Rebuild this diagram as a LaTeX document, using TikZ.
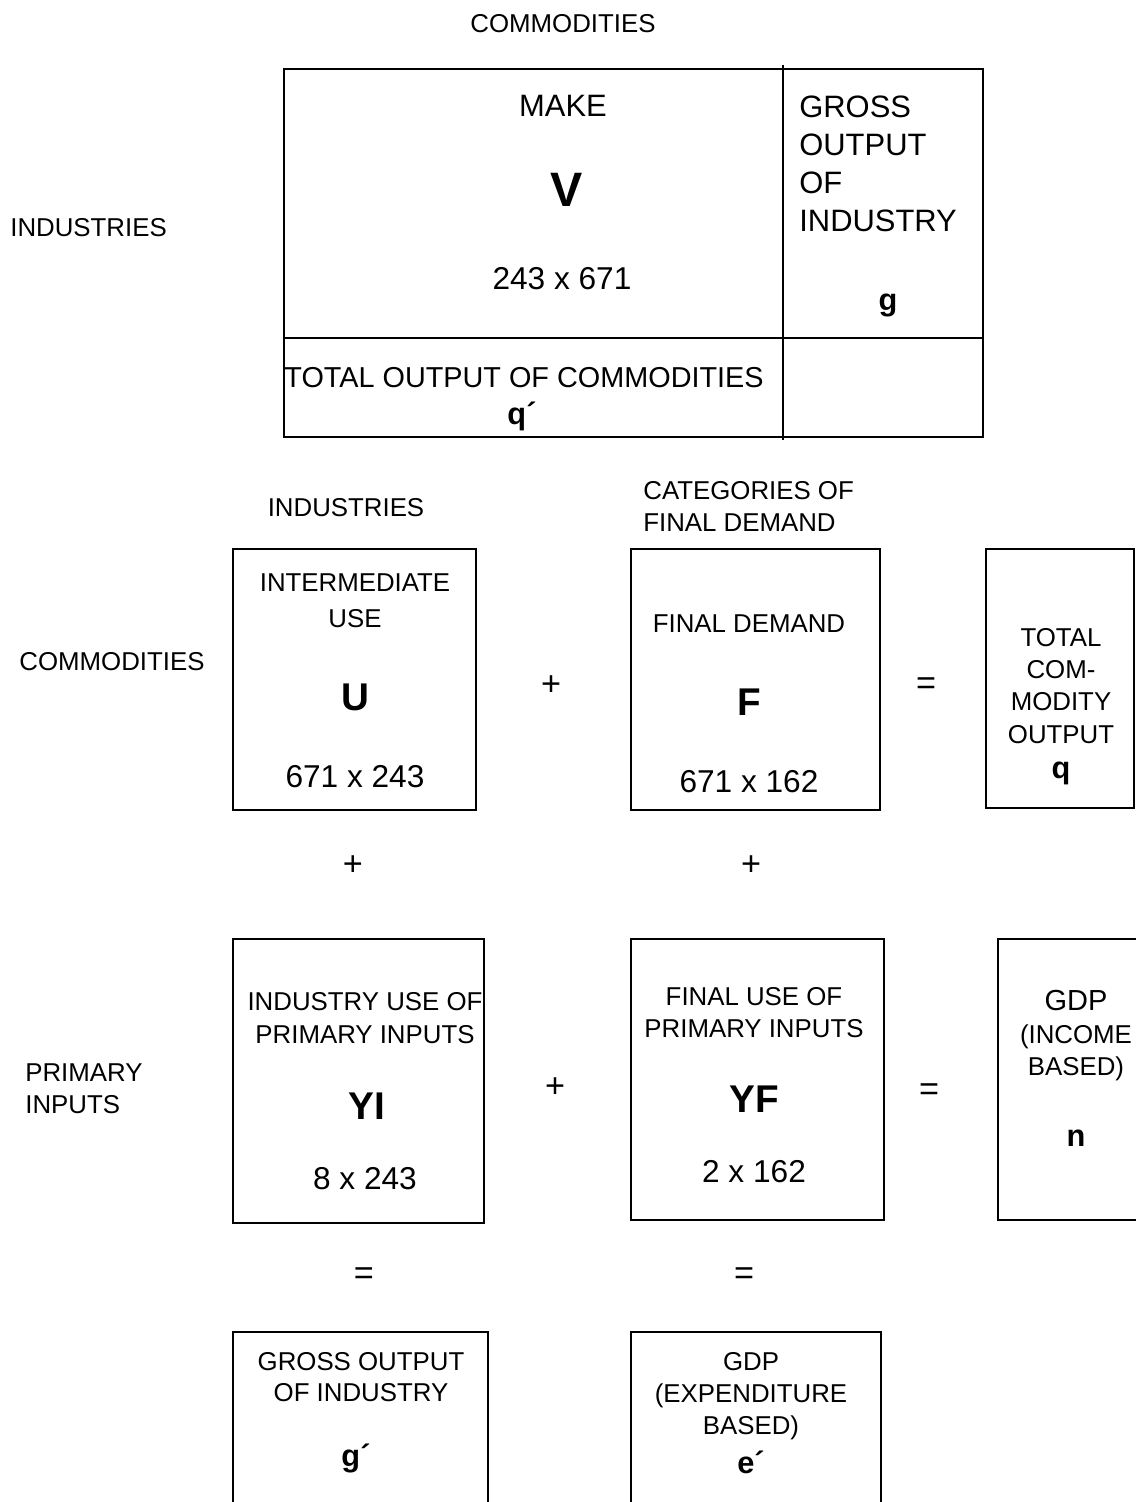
\documentclass[tikz,border=0pt]{standalone}
\usepackage{fontspec}
\setmainfont{Liberation Sans}
\usetikzlibrary{positioning, fit}

\begin{document}
\begin{tikzpicture}[
    x=0.02cm, y=-0.02cm,
    box/.style={draw, line width=1.1pt, inner sep=0pt},
    lbl/.style={inner sep=0pt, align=center, font=\fontsize{14.7}{18.2}\selectfont},
    toplbl/.style={inner sep=0pt, align=center, font=\fontsize{17.6}{21.5}\selectfont},
    dims/.style={inner sep=0pt, font=\fontsize{18}{22}\selectfont},
    sym/.style={inner sep=0pt, font=\bfseries\fontsize{22}{26}\selectfont},
    vec/.style={inner sep=0pt, font=\bfseries\fontsize{17.5}{21}\selectfont},
    op/.style={inner sep=0pt, font=\fontsize{19.5}{22}\selectfont}
]
\useasboundingbox (0,0) rectangle (1136,1502);

% Make table
\node[box, fit={(284,69) (983,437)}] (maketab) {};
\coordinate (divtop) at (783,65);
\coordinate (divbot) at (783,440);
\coordinate (rowl) at (284,338);
\coordinate (rowr) at (983,338);
\draw[line width=1.1pt] (divtop) -- (divbot);
\draw[line width=1.1pt] (rowl) -- (rowr);

\node[lbl] (commtop) at (563,24) {COMMODITIES};
\node[lbl, anchor=west] (indleft) at (10,228) {INDUSTRIES};
\node[toplbl] (make) at (563,106) {MAKE};
\node[sym, font=\bfseries\fontsize{27.5}{30}\selectfont] (symV) at (567,190) {V};
\node[dims] (dimV) at (562,279) {243 x 671};
\node[toplbl, align=left, anchor=west, font=\fontsize{17.6}{21.7}\selectfont] (grossg) at (799,164) {GROSS\\OUTPUT\\OF\\INDUSTRY};
\node[vec] (vecg) at (888,305) {g};
\node[toplbl, font=\fontsize{16.4}{20}\selectfont] (totq) at (524,378) {TOTAL OUTPUT OF COMMODITIES};
\node[vec] (vecqt) at (522,416) {q´};

% Use table, top row
\node[lbl] (indmid) at (346,508) {INDUSTRIES};
\node[lbl, align=left, anchor=west] (catfd) at (643,506) {CATEGORIES OF\\FINAL DEMAND};
\node[lbl] (commleft) at (112,662) {COMMODITIES};

\node[box, fit={(233,549) (476,810)}] (boxU) {};
\node[lbl, font=\fontsize{14.7}{20.4}\selectfont] (intuse) at (355,601) {INTERMEDIATE\\USE};
\node[sym] (symU) at (355,697) {U};
\node[dims] (dimU) at (355,777) {671 x 243};

\node[op] (plusUF) at (551,686) {+};

\node[box, fit={(631,549) (880,810)}] (boxF) {};
\node[lbl] (findem) at (749,624) {FINAL DEMAND};
\node[sym] (symF) at (749,702) {F};
\node[dims] (dimF) at (749,782) {671 x 162};

\node[op] (eqFq) at (926,686) {=};

\node[box, fit={(986,549) (1134,808)}] (boxq) {};
\node[lbl, font=\fontsize{14.7}{18.3}\selectfont] (totcom) at (1061,686) {TOTAL\\COM-\\MODITY\\OUTPUT};
\node[vec] (vecq) at (1061,773) {q};

\node[op] (plusU) at (353,866) {+};
\node[op] (plusF) at (751,866) {+};

% Primary inputs row
\node[lbl, align=left, anchor=west] (priminp) at (25,1089) {PRIMARY\\INPUTS};

\node[box, fit={(233,939) (484,1223)}] (boxYI) {};
\node[lbl, font=\fontsize{14.7}{18.7}\selectfont] (induse) at (365,1018) {INDUSTRY USE OF\\PRIMARY INPUTS};
\node[sym] (symYI) at (367,1106) {YI};
\node[dims] (dimYI) at (365,1179) {8 x 243};

\node[op] (plusYI) at (555,1088) {+};

\node[box, fit={(631,939) (884,1220)}] (boxYF) {};
\node[lbl] (finuse) at (754,1013) {FINAL USE OF\\PRIMARY INPUTS};
\node[sym] (symYF) at (754,1099) {YF};
\node[dims] (dimYF) at (754,1172) {2 x 162};

\node[op] (eqYF) at (929,1092) {=};

\node[box, fit={(998,939) (1150,1220)}] (boxn) {};
\node[lbl, font=\fontsize{16.5}{20}\selectfont] (gdpinc) at (1076,1001) {GDP};
\node[lbl] (incbased) at (1076,1053) {(INCOME\\BASED)};
\node[vec] (vecn) at (1076,1138) {n};

\node[op] (eqYI) at (364,1276) {=};
\node[op] (eqYFb) at (744,1276) {=};

% Totals
\node[box, fit={(233,1332) (488,1530)}] (boxg) {};
\node[lbl, font=\fontsize{14.7}{17.6}\selectfont] (grossind) at (361,1377) {GROSS OUTPUT\\OF INDUSTRY};
\node[vec] (vecgt) at (356,1458) {g´};

\node[box, fit={(631,1332) (881,1530)}] (boxe) {};
\node[lbl] (gdpexp) at (751,1396) {GDP\\(EXPENDITURE\\BASED)};
\node[vec] (vecet) at (751,1462) {e´};

\end{tikzpicture}
\end{document}
